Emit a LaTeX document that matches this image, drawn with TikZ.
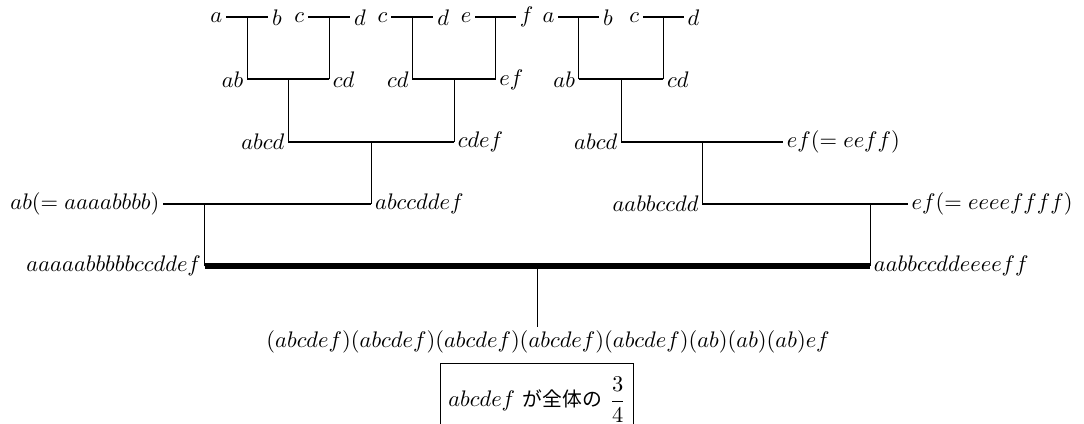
\documentclass[tikz,border=0pt]{standalone}
\usepackage{amsmath}
\usepackage{fontspec}
\newfontfamily\jp[Scale=0.88]{Noto Sans CJK JP}
\usetikzlibrary{calc}
\begin{document}
\begin{tikzpicture}[lend/.style={anchor=east,inner sep=1.5pt},rend/.style={anchor=west,inner sep=1.5pt},hbar/.style={thick},vbar/.style={thin},mainbar/.style={line width=2.6pt}]
		\useasboundingbox (0,0) rectangle (16.93,6.61);
		\node[lend] (a1) at (3.53,6.34) {$a$};
		\node[rend] (b1) at (4.19,6.34) {$b$};
		\node[lend] (c1) at (4.81,6.34) {$c$};
		\node[rend] (d1) at (5.47,6.34) {$d$};
		\node[lend] (c2) at (6.11,6.34) {$c$};
		\node[rend] (d2) at (6.77,6.34) {$d$};
		\node[lend] (e1) at (7.42,6.34) {$e$};
		\node[rend] (f1) at (8.06,6.34) {$f$};
		\node[lend] (a2) at (8.72,6.34) {$a$};
		\node[rend] (b2) at (9.36,6.34) {$b$};
		\node[lend] (c3) at (10.04,6.34) {$c$};
		\node[rend] (d3) at (10.68,6.34) {$d$};
		\node[lend] (ab1) at (3.86,5.37) {$ab$};
		\node[rend] (cd1) at (5.14,5.37) {$cd$};
		\node[lend] (cd2) at (6.44,5.37) {$cd$};
		\node[rend] (ef1) at (7.74,5.37) {$ef$};
		\node[lend] (ab2) at (9.04,5.37) {$ab$};
		\node[rend] (cd3) at (10.36,5.37) {$cd$};
		\node[lend] (abcd1) at (4.50,4.39) {$abcd$};
		\node[rend] (cdef) at (7.09,4.39) {$cdef$};
		\node[lend] (abcd2) at (9.70,4.39) {$abcd$};
		\node[rend] (eeff) at (12.23,4.39) {$ef(=eeff)$};
		\node[lend] (ab3) at (2.55,3.43) {$ab(=aaaabbbb)$};
		\node[rend] (abccddef) at (5.80,3.43) {$abccddef$};
		\node[lend] (aabbccdd) at (10.97,3.43) {$aabbccdd$};
		\node[rend] (eeeeffff) at (14.18,3.43) {$ef(=eeeeffff)$};
		\node[lend] (full1) at (3.20,2.45) {$aaaaabbbbbccddef$};
		\node[rend] (full2) at (13.59,2.45) {$aabbccddeeeeff$};
		\node[anchor=base,inner sep=1pt] (res) at (8.56,1.19) {$(abcdef)(abcdef)(abcdef)(abcdef)(abcdef)(ab)(ab)(ab)ef$};
		\node[draw,thin,anchor=north,inner ysep=6pt,text depth=11pt] (ratio) at (8.39,0.94) {$abcdef$ {\jp が全体の} $\dfrac{3}{4}$};
		\draw[hbar] (a1.east) -- (b1.west);
		\draw[hbar] (c1.east) -- (d1.west);
		\draw[hbar] (c2.east) -- (d2.west);
		\draw[hbar] (e1.east) -- (f1.west);
		\draw[hbar] (a2.east) -- (b2.west);
		\draw[hbar] (c3.east) -- (d3.west);
		\draw[hbar] (ab1.east) -- (cd1.west);
		\draw[hbar] (cd2.east) -- (ef1.west);
		\draw[hbar] (ab2.east) -- (cd3.west);
		\draw[hbar] (abcd1.east) -- (cdef.west);
		\draw[hbar] (abcd2.east) -- (eeff.west);
		\draw[hbar] (ab3.east) -- (abccddef.west);
		\draw[hbar] (aabbccdd.east) -- (eeeeffff.west);
		\draw[mainbar] (full1.east) -- (full2.west);
		\draw[vbar] (ab1.east) -- (ab1.east |- a1.east);
		\draw[vbar] (cd1.west) -- (cd1.west |- c1.east);
		\draw[vbar] (cd2.east) -- (cd2.east |- c2.east);
		\draw[vbar] (ef1.west) -- (ef1.west |- e1.east);
		\draw[vbar] (ab2.east) -- (ab2.east |- a2.east);
		\draw[vbar] (cd3.west) -- (cd3.west |- c3.east);
		\draw[vbar] (abcd1.east) -- (abcd1.east |- ab1.east);
		\draw[vbar] (cdef.west) -- (cdef.west |- cd2.east);
		\draw[vbar] (abcd2.east) -- (abcd2.east |- ab2.east);
		\draw[vbar] (abccddef.west) -- (abccddef.west |- abcd1.east);
		\draw[vbar] (aabbccdd.east) -- (aabbccdd.east |- abcd2.east);
		\draw[vbar] (full1.east) -- (full1.east |- ab3.east);
		\draw[vbar] (full2.west) -- (full2.west |- aabbccdd.east);
		\coordinate (top) at ($(full1.east)!.5!(full2.west)$);
		\draw[vbar] (top) -- (top |- res.north);
	\end{tikzpicture}
\end{document}
